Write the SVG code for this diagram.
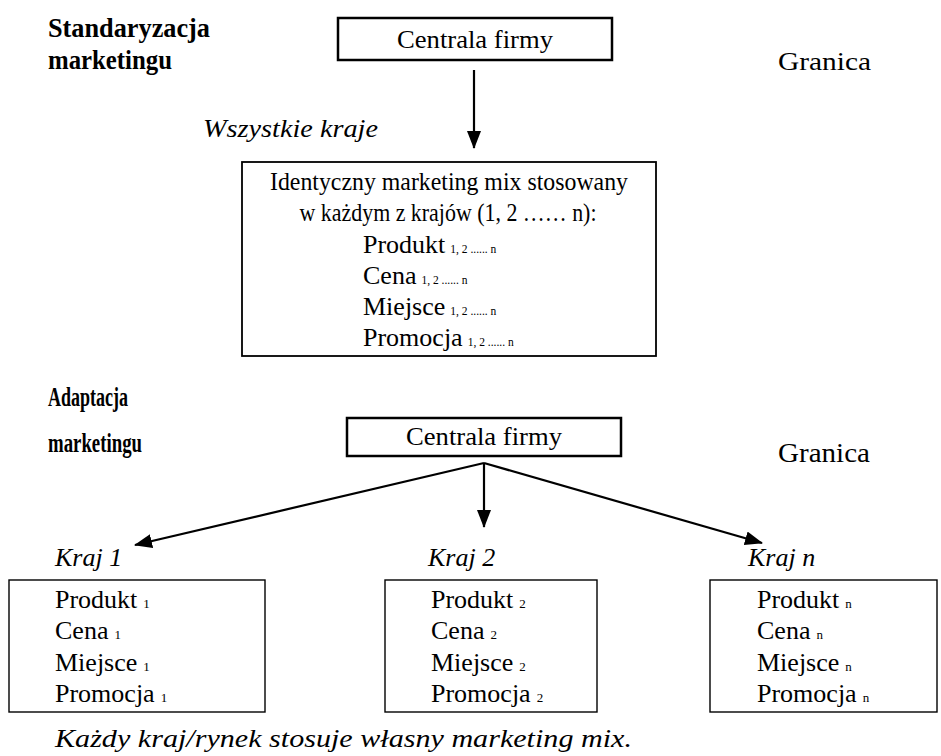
<svg xmlns="http://www.w3.org/2000/svg" width="941" height="756" viewBox="0 0 941 756">
<style>
text{font-family:"Liberation Serif","Times New Roman",serif;fill:#000}
.b{font-weight:bold}
.i{font-style:italic}
.t{font-size:26px}
.s{font-size:13px}
.ss{font-size:11.5px}
.box{fill:#fff;stroke:#000}
.con{stroke:#000;stroke-width:2.2;fill:none}
</style>
<defs>
<marker id="ah" markerUnits="userSpaceOnUse" markerWidth="20" markerHeight="16" refX="17" refY="7" orient="auto">
<path d="M0,0 L18,7 L0,14 Z" fill="#000"/>
</marker>
</defs>
<rect width="941" height="756" fill="#fff"/>

<g id="lbl-standaryzacja">
<text class="b" font-size="27" x="48" y="37" textLength="162" lengthAdjust="spacingAndGlyphs">Standaryzacja</text>
<text class="b" font-size="27" x="48" y="69" textLength="124" lengthAdjust="spacingAndGlyphs">marketingu</text>
</g>
<g id="centrala1">
<rect class="box" x="338" y="18" width="274" height="42" stroke-width="2.5"/>
<text class="t" x="475" y="48" text-anchor="middle" textLength="156" lengthAdjust="spacingAndGlyphs">Centrala firmy</text>
</g>
<g id="granica1"><text class="t" x="778" y="70" textLength="93" lengthAdjust="spacingAndGlyphs">Granica</text></g>
<g id="wszystkie"><text class="i t" x="203" y="137" textLength="175" lengthAdjust="spacingAndGlyphs">Wszystkie kraje</text></g>
<g id="mix-standard">
<rect class="box" x="242" y="162" width="414" height="194" stroke-width="1.8"/>
<text class="t" x="449" y="190" text-anchor="middle" textLength="358" lengthAdjust="spacingAndGlyphs">Identyczny marketing mix stosowany</text>
<text class="t" x="448" y="221" text-anchor="middle" textLength="297" lengthAdjust="spacingAndGlyphs">w każdym z krajów (1, 2 …… n):</text>
<text class="t" x="363" y="253">Produkt<tspan class="ss" dx="5">1, 2 ...... n</tspan></text>
<text class="t" x="363" y="284">Cena<tspan class="ss" dx="5">1, 2 ...... n</tspan></text>
<text class="t" x="363" y="315">Miejsce<tspan class="ss" dx="5">1, 2 ...... n</tspan></text>
<text class="t" x="363" y="346">Promocja<tspan class="ss" dx="5">1, 2 ...... n</tspan></text>
</g>

<g id="lbl-adaptacja">
<text class="b" font-size="27" x="48" y="406" textLength="80" lengthAdjust="spacingAndGlyphs">Adaptacja</text>
<text class="b" font-size="27" x="48" y="452" textLength="94" lengthAdjust="spacingAndGlyphs">marketingu</text>
</g>
<g id="centrala2">
<rect class="box" x="347" y="418" width="274" height="38" stroke-width="2.5"/>
<text font-size="26" x="484" y="445" text-anchor="middle" textLength="156" lengthAdjust="spacingAndGlyphs">Centrala firmy</text>
</g>
<g id="granica2"><text font-size="27" x="778" y="462" textLength="92" lengthAdjust="spacingAndGlyphs">Granica</text></g>

<g id="connectors">
<line class="con" x1="474" y1="70" x2="474" y2="148" marker-end="url(#ah)"/>
<line class="con" x1="484" y1="463" x2="135" y2="545" marker-end="url(#ah)"/>
<line class="con" x1="484" y1="463" x2="484" y2="527" marker-end="url(#ah)"/>
<line class="con" x1="484" y1="463" x2="762" y2="543" marker-end="url(#ah)"/>
</g>

<g id="kraj1">
<text class="i t" x="55" y="566">Kraj 1</text>
<rect class="box" x="9" y="580" width="256" height="132" stroke-width="1.4"/>
<text class="t" x="55" y="608">Produkt<tspan class="s" dx="6">1</tspan></text>
<text class="t" x="55" y="639">Cena<tspan class="s" dx="6">1</tspan></text>
<text class="t" x="55" y="671">Miejsce<tspan class="s" dx="6">1</tspan></text>
<text class="t" x="55" y="702">Promocja<tspan class="s" dx="6">1</tspan></text>
</g>
<g id="kraj2">
<text class="i t" x="428" y="566">Kraj 2</text>
<rect class="box" x="385" y="580" width="212" height="132" stroke-width="1.4"/>
<text class="t" x="431" y="608">Produkt<tspan class="s" dx="6">2</tspan></text>
<text class="t" x="431" y="639">Cena<tspan class="s" dx="6">2</tspan></text>
<text class="t" x="431" y="671">Miejsce<tspan class="s" dx="6">2</tspan></text>
<text class="t" x="431" y="702">Promocja<tspan class="s" dx="6">2</tspan></text>
</g>
<g id="krajn">
<text class="i t" x="748" y="566">Kraj n</text>
<rect class="box" x="710" y="580" width="227" height="132" stroke-width="1.4"/>
<text class="t" x="757" y="608">Produkt<tspan class="s" dx="6">n</tspan></text>
<text class="t" x="757" y="639">Cena<tspan class="s" dx="6">n</tspan></text>
<text class="t" x="757" y="671">Miejsce<tspan class="s" dx="6">n</tspan></text>
<text class="t" x="757" y="702">Promocja<tspan class="s" dx="6">n</tspan></text>
</g>
<g id="footer"><text class="i t" x="55" y="747" textLength="577" lengthAdjust="spacingAndGlyphs">Każdy kraj/rynek stosuje własny marketing mix.</text></g>
</svg>
